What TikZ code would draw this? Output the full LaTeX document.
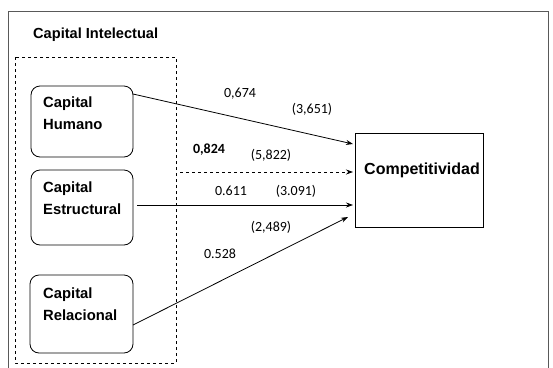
\documentclass[tikz,border=0pt]{standalone}
\usepackage{fontspec}
\setmainfont{Liberation Sans}
\newfontfamily\numfont{Carlito}
\usetikzlibrary{arrows.meta}
\begin{document}
\begin{tikzpicture}[x=1pt,y=-1pt,
  cbox/.style={draw,line width=0.8pt,rounded corners=9pt},
  btxt/.style={font=\fontsize{14.8}{21.5}\selectfont\bfseries,align=left,anchor=north west,inner sep=0pt},
  num/.style={font=\numfont\fontsize{14}{16}\selectfont,inner sep=0pt},
  arr/.style={-{Stealth[length=7pt,width=5pt]},line width=0.8pt}]
\clip (0,0) rectangle (553,367);
\useasboundingbox (0,0) rectangle (553,367);
\fill[white] (0,0) rectangle (553,367);
\draw[gray!70!black,line width=0.8pt] (8,11) rectangle (548,380);
\node[btxt,anchor=west,font=\fontsize{14.6}{17}\selectfont\bfseries] (title) at (33,35) {Capital Intelectual};
\draw[dashed,line width=0.7pt] (15,57) rectangle (176,363);
% boxes
\draw[cbox] (31,86) rectangle (133,157);
\node[coordinate] (hum) at (133,94) {};
\node[btxt] (thum) at (43,97) {Capital\\Humano};
\draw[cbox] (31,170) rectangle (133,245);
\node[coordinate] (est) at (137,205) {};
\node[btxt] (test) at (43,182) {Capital\\Estructural};
\draw[cbox] (30,275) rectangle (133,353);
\node[coordinate] (rel) at (133,325) {};
\node[btxt] (trel) at (43,288) {Capital\\Relacional};
\node[draw,line width=0.8pt,minimum width=128pt,minimum height=94pt,anchor=north west,inner sep=0pt] (comp) at (355,133) {};
\node[font=\fontsize{16}{18}\selectfont\bfseries,inner sep=0pt] (tcomp) at (422,170) {Competitividad};
\coordinate (d0) at (180,172);
\coordinate (c1) at (353,144);
\coordinate (c2) at (353,172);
\coordinate (c3) at (353,205);
\coordinate (c4) at (348,217);
\draw[arr] (hum) -- (c1);
\draw[arr,dashed] (d0) -- (c2);
\draw[arr] (est) -- (c3);
\draw[arr] (rel) -- (c4);
% labels
\node[num] (l1) at (240,94) {0,674};
\node[num] (l2) at (312,109) {(3,651)};
\node[num,font=\numfont\bfseries\fontsize{14}{16}\selectfont] (l3) at (209,150) {0,824};
\node[num] (l4) at (271,155) {(5,822)};
\node[num] (l5) at (231,191) {0.611};
\node[num] (l6) at (296,191) {(3.091)};
\node[num] (l7) at (271,227) {(2,489)};
\node[num] (l8) at (220,254) {0.528};
\end{tikzpicture}
\end{document}
